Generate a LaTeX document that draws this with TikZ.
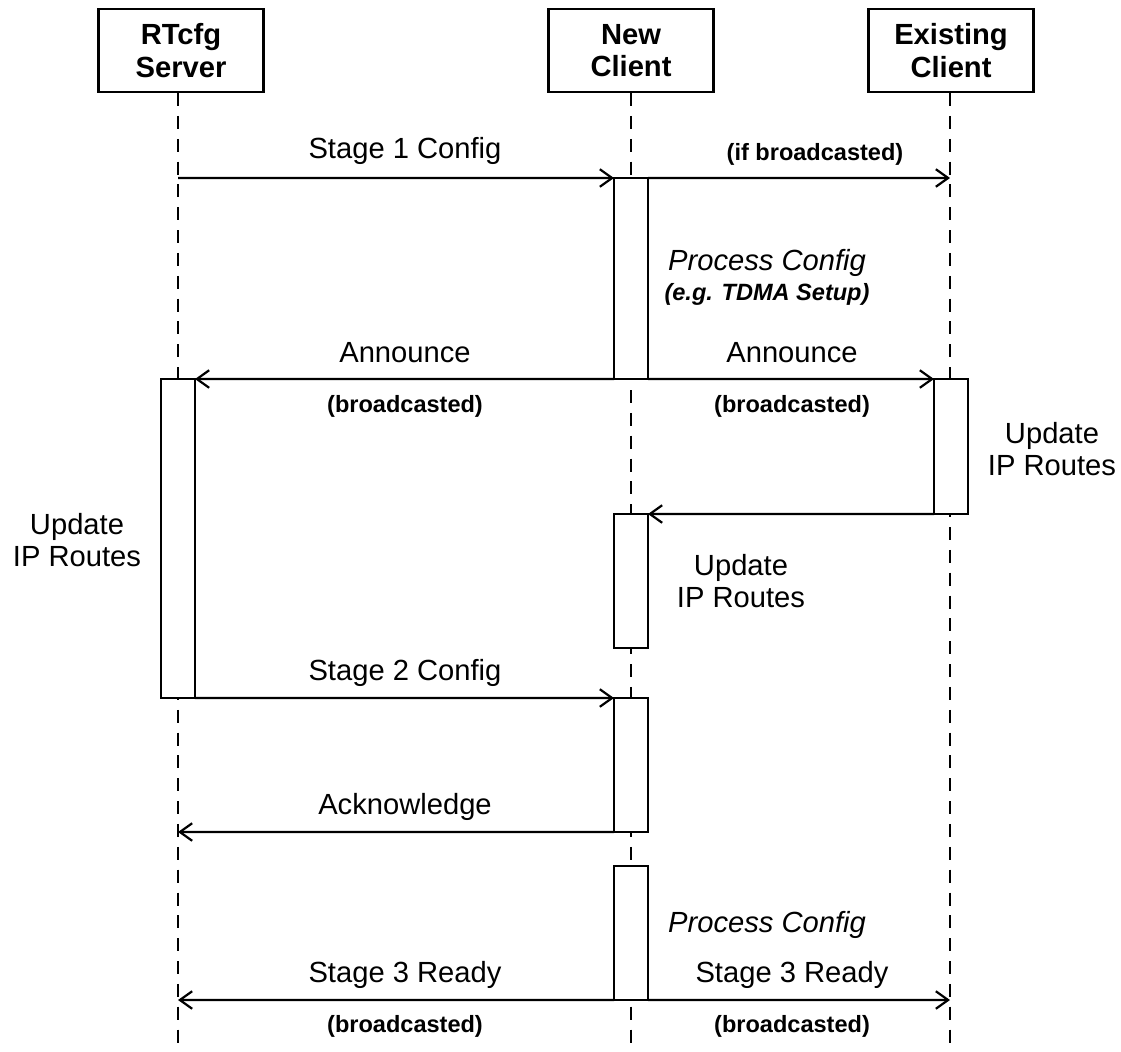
\documentclass[tikz,border=0pt]{standalone}
\usepackage{fontspec}
\setmainfont{Liberation Sans}
\usetikzlibrary{arrows.meta}

\begin{document}
\begin{tikzpicture}[x=0.02cm,y=-0.02cm,line width=1.25pt,
  every node/.style={font=\fontsize{16.6}{18}\selectfont},
  head/.style={draw,fill=white,align=center,font=\fontsize{16.6}{18.5}\selectfont\bfseries,
    minimum width=3.3cm,minimum height=1.66cm,inner sep=0pt},
  act/.style={draw,fill=white,minimum width=0.68cm,inner sep=0pt,outer sep=0pt},
  life/.style={dash pattern=on 7.4pt off 5.6pt,line width=1.1pt},
  msg/.style={-{Straight Barb[length=7pt,width=10pt]}},
  note/.style={font=\fontsize{13.4}{15}\selectfont\bfseries},
  txt/.style={align=center}]
\useasboundingbox (0,0) rectangle (1121,1051);

% participants
\node[head] (srv) at (181,50.5) {RTcfg\\Server};
\node[head] (nc) at (631,50.5) {New\\Client};
\node[head] (ec) at (951,50.5) {Existing\\Client};

% lifelines
\coordinate (srvend) at (178,1051);
\coordinate (ncend) at (631,1051);
\coordinate (ecend) at (950,1051);
\draw[life] (srv.south -| srvend) -- (srvend);
\draw[life] (nc.south -| ncend) -- (ncend);
\draw[life] (ec.south -| ecend) -- (ecend);

% activations
\node[act,minimum height=4.02cm] (a1) at (631,278.5) {};
\node[act,minimum height=6.38cm] (sa) at (178,538.5) {};
\node[act,minimum height=2.70cm] (ea) at (951,446.5) {};
\node[act,minimum height=2.68cm] (a2) at (631,581) {};
\node[act,minimum height=2.68cm] (a3) at (631,765) {};
\node[act,minimum height=2.68cm] (a4) at (631,933) {};

% message ends on lifelines
\coordinate (s1) at (178,178);
\coordinate (e1) at (950,178);
\coordinate (s2) at (178,832);
\coordinate (s3) at (178,1000);
\coordinate (e3) at (950,1000);

% messages
\draw[msg] (s1) -- (a1.north west);
\draw[msg] (a1.north east) -- (e1);
\draw[msg] (a1.south west) -- (sa.north east);
\draw[msg] (a1.south east) -- (ea.north west);
\draw[msg] (ea.south west) -- (a2.north east);
\draw[msg] (sa.south east) -- (a3.north west);
\draw[msg] (a3.south west) -- (s2);
\draw[msg] (a4.south west) -- (s3);
\draw[msg] (a4.south east) -- (e3);

% labels
\node (l1) at (405,151) {Stage 1 Config};
\node[note] (l2) at (815,154) {(if broadcasted)};
\node[font=\fontsize{16.6}{18}\selectfont\itshape] (l3) at (767,263) {Process Config};
\node[note,font=\fontsize{13.4}{15}\selectfont\bfseries\itshape] (l4) at (767,294) {(e.g. TDMA Setup)};
\node (l5) at (405,353) {Announce};
\node[note] (l6) at (405,406) {(broadcasted)};
\node (l7) at (792,353) {Announce};
\node[note] (l8) at (792,406) {(broadcasted)};
\node[txt] (l9) at (1052,449) {Update\\IP Routes};
\node[txt] (l10) at (77,540) {Update\\IP Routes};
\node[txt] (l11) at (741,581) {Update\\IP Routes};
\node (l12) at (405,673) {Stage 2 Config};
\node (l13) at (405,807) {Acknowledge};
\node[font=\fontsize{16.6}{18}\selectfont\itshape] (l14) at (767,925) {Process Config};
\node (l15) at (405,975) {Stage 3 Ready};
\node[note] (l16) at (405,1026) {(broadcasted)};
\node (l17) at (792,975) {Stage 3 Ready};
\node[note] (l18) at (792,1026) {(broadcasted)};
\end{tikzpicture}
\end{document}
